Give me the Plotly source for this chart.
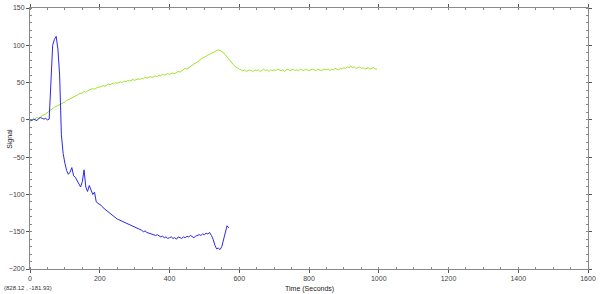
import plotly.graph_objects as go

# ---- data ----
blue_t = list(range(0, 575, 5))
blue_v = [0, -1, 1, 0, -1, 2, 3, 2, 1, 2,
          0, 1, 60, 100, 108, 112, 95, 60, -20, -45,
          -58, -68, -73, -70, -64, -75, -77, -82, -86, -90,
          -83, -67, -90, -96, -88, -93, -100, -97, -110, -112,
          -113, -115, -118, -120, -121, -124, -126, -127, -130, -131,
          -133, -134, -135, -136, -138, -139, -140, -140, -142, -143,
          -144, -145, -146, -147, -148, -150, -149, -151, -152, -152,
          -153, -154, -155, -154, -156, -157, -156, -158, -157, -159,
          -158, -157, -159, -158, -160, -157, -158, -159, -157, -158,
          -156, -157, -155, -157, -158, -156, -155, -154, -155, -153,
          -154, -152, -153, -151, -155, -160, -168, -173, -172, -174,
          -170, -160, -150, -142, -145]

green_t = list(range(0, 1000, 5))
green_v = [-2, -1, 0, 1, 3, 2, 4, 5, 7, 8,
           10, 12, 13, 15, 17, 18, 19, 21, 22, 23,
           24, 26, 27, 28, 30, 31, 32, 33, 35, 35,
           36, 38, 37, 39, 40, 40, 42, 41, 43, 44,
           44, 45, 46, 45, 47, 48, 47, 49, 48, 50,
           49, 50, 51, 50, 52, 51, 53, 52, 53, 54,
           53, 54, 55, 54, 56, 55, 57, 56, 57, 58,
           57, 58, 59, 58, 60, 59, 61, 60, 61, 62,
           61, 62, 63, 62, 64, 65, 64, 66, 67, 69,
           68, 70, 72, 73, 75, 76, 78, 80, 81, 83,
           84, 86, 87, 88, 89, 91, 92, 93, 94, 93,
           92, 90, 87, 84, 81, 78, 75, 73, 71, 69,
           68, 67, 66, 67, 65, 66, 67, 66, 65, 67,
           66, 67, 65, 66, 68, 66, 67, 65, 67, 66,
           67, 66, 68, 67, 66, 67, 65, 67, 68, 66,
           67, 68, 66, 67, 66, 68, 67, 66, 68, 67,
           66, 67, 68, 67, 66, 68, 67, 66, 67, 68,
           67, 68, 66, 68, 67, 69, 68, 67, 69, 68,
           70, 69, 71, 70, 72, 70, 71, 69, 70, 71,
           69, 70, 68, 69, 70, 68, 69, 70, 68, 68]

x_label = "Time (Seconds)"
y_label = "Signal"
cursor_text = "(828.12 , -181.93)"

fig = go.Figure()
fig.add_trace(go.Scatter(x=green_t, y=green_v, mode="lines",
                         line=dict(color="#9fe32a", width=1), showlegend=False))
fig.add_trace(go.Scatter(x=blue_t, y=blue_v, mode="lines",
                         line=dict(color="#2a2ae6", width=1), showlegend=False))

axis_common = dict(showgrid=False, zeroline=False, showline=True, linecolor="#8a8a8a",
                   linewidth=1, mirror="ticks", ticks="outside", ticklen=3,
                   tickcolor="#555555", tickfont=dict(size=7, color="#444444",
                                                      family="Liberation Sans, Arial"))
fig.update_xaxes(range=[0, 1600], dtick=200, tick0=0,
                 minor=dict(dtick=50, ticks="inside", ticklen=2, tickcolor="#888888"),
                 **axis_common)
fig.update_yaxes(range=[-200, 150], dtick=50, tick0=0,
                 minor=dict(dtick=10, ticks="inside", ticklen=2, tickcolor="#888888"),
                 **axis_common)

fig.add_annotation(text=x_label, xref="paper", yref="paper", x=0.5, y=-0.055,
                   yanchor="top", showarrow=False,
                   font=dict(size=7, color="#222222", family="Liberation Sans, Arial"))
fig.add_annotation(text=y_label, xref="paper", yref="paper", x=-0.037, y=0.5,
                   xanchor="center", textangle=-90, showarrow=False,
                   font=dict(size=7, color="#222222", family="Liberation Sans, Arial"))
fig.add_annotation(text=cursor_text, xref="paper", yref="paper", x=-0.051, y=-0.074,
                   xanchor="left", yanchor="middle", showarrow=False,
                   font=dict(size=6, color="#333333", family="Liberation Sans, Arial"))

fig.update_layout(width=600, height=294, margin=dict(l=30, r=11, t=4, b=25),
                  paper_bgcolor="white", plot_bgcolor="white")
fig.write_html("out.html")
